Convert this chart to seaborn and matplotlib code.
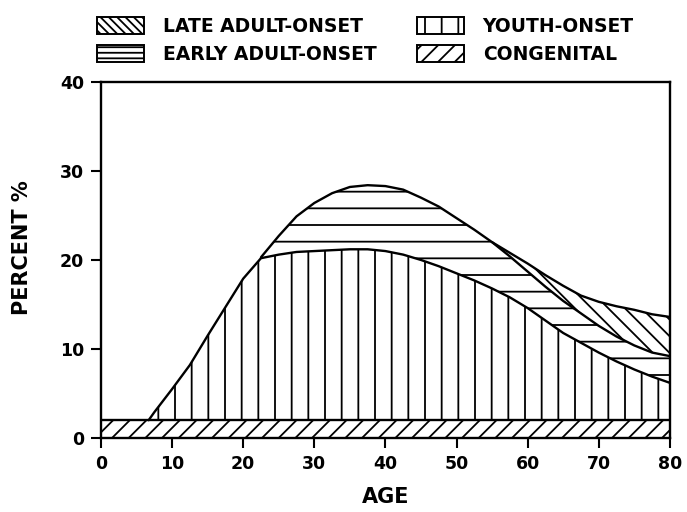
import numpy as np
import matplotlib
matplotlib.use("Agg")
import matplotlib.pyplot as plt
import seaborn as sns
from matplotlib.patches import Patch

# ---- data (percent, stacked components) ----
ages       = [0, 5, 6.7, 7.5, 10, 12.5, 15, 17.5, 20, 22.5, 25, 27.5, 30, 32.5, 35, 37.5,
              40, 42.5, 45, 47.5, 50, 52.5, 55, 57.5, 60, 62.5, 65, 67.5, 70, 72.5, 75, 77.5, 80]
congenital = [2, 2, 2, 2, 2, 2, 2, 2, 2, 2, 2, 2, 2, 2, 2, 2,
              2, 2, 2, 2, 2, 2, 2, 2, 2, 2, 2, 2, 2, 2, 2, 2, 2]
youth      = [0, 0, 0, 0.9, 3.5, 6.2, 9.5, 12.7, 15.9, 18.2, 18.6, 18.9, 19.0, 19.1, 19.2, 19.2,
              19.0, 18.6, 18.0, 17.3, 16.5, 15.7, 14.8, 13.8, 12.6, 11.2, 9.8, 8.7, 7.6, 6.6, 5.7, 4.9, 4.2]
early      = [0, 0, 0, 0, 0, 0, 0, 0, 0, 0.1, 2.1, 4.0, 5.4, 6.4, 7.0, 7.2,
              7.3, 7.3, 7.0, 6.7, 6.2, 5.7, 5.2, 4.6, 4.1, 3.8, 3.6, 3.3, 3.0, 2.8, 2.7, 2.7, 3.0]
late       = [0, 0, 0, 0, 0, 0, 0, 0, 0, 0, 0, 0, 0, 0, 0, 0,
              0, 0, 0, 0, 0, 0, 0, 0.4, 0.9, 1.3, 1.7, 2.0, 2.7, 3.4, 4.0, 4.3, 4.4]

labels = ["LATE ADULT-ONSET", "EARLY ADULT-ONSET", "YOUTH-ONSET", "CONGENITAL"]
xticks = [0, 10, 20, 30, 40, 50, 60, 70, 80]
yticks = [0, 10, 20, 30, 40]

sns.set_theme(style="ticks")
plt.rcParams["font.family"] = ["DejaVu Sans"]
plt.rcParams["hatch.linewidth"] = 1.3
plt.rcParams["hatch.color"] = "black"
plt.rcParams["text.color"] = "black"
plt.rcParams["axes.labelcolor"] = "black"

x = np.array(ages, dtype=float)
c0 = np.array(congenital, dtype=float)
c1 = c0 + np.array(youth)
c2 = c1 + np.array(early)
c3 = c2 + np.array(late)

fig = plt.figure(figsize=(6.87, 5.12), dpi=100)
ax = fig.add_axes([0.147, 0.1445, 0.828, 0.6955])

fills = [
    (np.zeros_like(x), c0, "//"),
    (c0, c1, "|"),
    (c1, c2, "-"),
    (c2, c3, "\\\\"),
]
for lo, hi, h in fills:
    ax.fill_between(x, lo, hi, facecolor="white", edgecolor="black",
                    hatch=h, linewidth=0)

lw = 1.7
sns.lineplot(x=x, y=c0, ax=ax, color="black", lw=lw)
m = x >= 6.7
sns.lineplot(x=x[m], y=c1[m], ax=ax, color="black", lw=lw)
m = x >= 22.5
sns.lineplot(x=x[m], y=c2[m], ax=ax, color="black", lw=lw)
m = x >= 55
sns.lineplot(x=x[m], y=c3[m], ax=ax, color="black", lw=lw)

ax.set_xlim(0, 80)
ax.set_ylim(0, 40)
ax.set_xticks(xticks)
ax.set_yticks(yticks)
ax.set_xticklabels([str(t) for t in xticks], fontsize=12.5, fontweight="bold")
ax.set_yticklabels([str(t) for t in yticks], fontsize=12.5, fontweight="bold")
ax.tick_params(direction="out", length=7, width=1.5, colors="black")
ax.tick_params(axis="x", pad=5)
ax.tick_params(axis="y", pad=5)
for s in ax.spines.values():
    s.set_visible(True)
    s.set_linewidth(1.7)
    s.set_color("black")
ax.set_facecolor("white")

ax.set_xlabel("AGE", fontsize=15, fontweight="bold", labelpad=10)
ax.set_ylabel("PERCENT %", fontsize=15, fontweight="bold", labelpad=20)
ax.yaxis.label.set_y(0.535)

handles = [
    Patch(facecolor="white", edgecolor="black", hatch="\\\\\\\\", lw=1.4),
    Patch(facecolor="white", edgecolor="black", hatch="---", lw=1.4),
    Patch(facecolor="white", edgecolor="black", hatch="|", lw=1.4),
    Patch(facecolor="white", edgecolor="black", hatch="//", lw=1.4),
]
fig.legend(handles, labels, ncol=2, loc="upper left",
           bbox_to_anchor=(97 / 687, 1 - 17 / 512), frameon=False,
           borderaxespad=0, borderpad=0,
           prop={"size": 13.5, "weight": "bold"},
           handlelength=2.5, handleheight=1.05, handletextpad=1.0,
           columnspacing=2.17, labelspacing=0.45)

fig.savefig("out.png", dpi=100, facecolor="white")
